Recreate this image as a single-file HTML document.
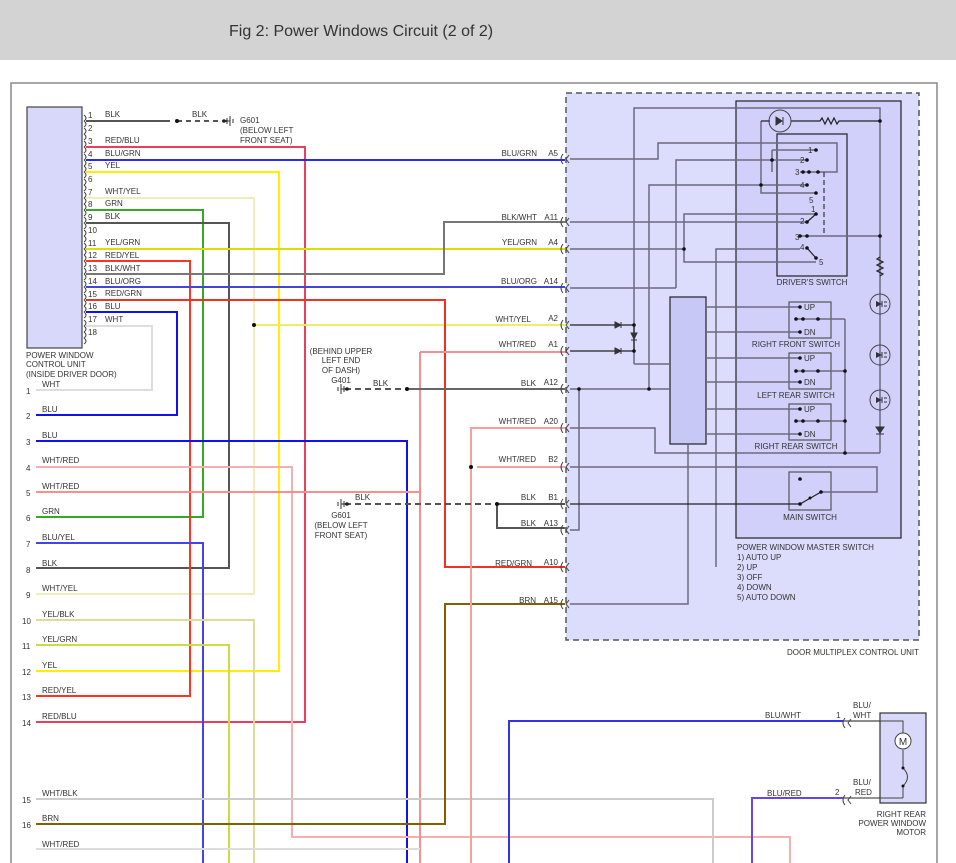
<!DOCTYPE html>
<html><head><meta charset="utf-8"><style>
html,body{margin:0;padding:0;background:#fff;}
svg{display:block;font-family:"Liberation Sans",sans-serif;}
.t{font-size:8px;fill:#333;}
</style></head><body>
<svg width="956" height="863" viewBox="0 0 956 863" xmlns="http://www.w3.org/2000/svg">
<defs>
<g id="cn"><path d="M-2,-5 Q-6,0 -2,5" fill="none" stroke="#444" stroke-width="1"/><path d="M4,-4 L1,0 L4,4" fill="none" stroke="#444" stroke-width="1"/></g>
<g id="pc"><path d="M0,-6 Q4,-3 0,0 M0,0 Q4,3 0,6" fill="none" stroke="#444" stroke-width="1"/></g>
<g id="gnd"><line x1="0" y1="-5" x2="0" y2="5" stroke="#333"/><line x1="3" y1="-3" x2="3" y2="3" stroke="#333"/><line x1="-3" y1="-2" x2="-3" y2="2" stroke="#333"/><line x1="0" y1="0" x2="6" y2="0" stroke="#333"/><circle cx="6" cy="0" r="1.8" fill="#222"/></g>
<g id="led"><circle r="10" fill="none" stroke="#444"/><path d="M-4,-3 L2,0 L-4,3 Z" fill="#333"/><line x1="2" y1="-3" x2="2" y2="3" stroke="#333"/><path d="M4,-2 l3,0 M4,2 l3,0" stroke="#333"/></g>
</defs>
<rect x="0" y="0" width="956" height="60" fill="#d3d3d3"/>
<text x="229" y="36" font-size="16" fill="#333">Fig 2: Power Windows Circuit (2 of 2)</text>
<path d="M11,863 V83 H937 V863" fill="none" stroke="#888" stroke-width="1.5"/>

<!-- right module -->
<rect x="566" y="93" width="353" height="547" fill="#dcdcfc" stroke="#555" stroke-dasharray="6,4" stroke-width="1.5"/>
<rect x="736" y="101" width="165" height="437" fill="#d0d0fa" stroke="#222" stroke-width="1.2"/>
<rect x="777" y="134" width="70" height="142" fill="#d0d0fa" stroke="#222" stroke-width="1.2"/>
<rect x="670" y="297" width="36" height="147" fill="#c8c8f6" stroke="#222" stroke-width="1.2"/>
<g fill="#d0d0fa" stroke="#555" stroke-width="1.2">
<rect x="789" y="302" width="42" height="36"/><rect x="789" y="353" width="42" height="36"/><rect x="789" y="404" width="42" height="36"/><rect x="789" y="472" width="42" height="38"/>
</g>
<text class="t" x="796" y="285" text-anchor="middle" dx="16">DRIVER'S SWITCH</text>
<text class="t" x="796" y="347" text-anchor="middle">RIGHT FRONT SWITCH</text>
<text class="t" x="796" y="398" text-anchor="middle">LEFT REAR SWITCH</text>
<text class="t" x="796" y="449" text-anchor="middle">RIGHT REAR SWITCH</text>
<text class="t" x="810" y="520" text-anchor="middle">MAIN SWITCH</text>
<text class="t" x="737" y="550">POWER WINDOW MASTER SWITCH</text>
<text class="t" x="737" y="560">1) AUTO UP</text><text class="t" x="737" y="570">2) UP</text><text class="t" x="737" y="580">3) OFF</text><text class="t" x="737" y="590">4) DOWN</text><text class="t" x="737" y="600">5) AUTO DOWN</text>
<text class="t" x="919" y="655" text-anchor="end">DOOR MULTIPLEX CONTROL UNIT</text>

<!-- internal wiring -->
<g fill="none" stroke="#6a6a80" stroke-width="1.5">
<path d="M634,364 V108 H880 V453"/>
<path d="M634,364 H670"/>
<path d="M570,159 H658 V143 H837 V172 H800"/>
<path d="M676,288 V160 H807"/>
<path d="M772,150 V172 M772,150 H816"/>
<path d="M649,389 V185 H807"/>
<path d="M761,121 V193 H816"/>
<path d="M570,222 H807"/>
<path d="M684,249 V214 H816 M684,249 V262 H816"/>
<path d="M570,249 H684"/>
<path d="M570,288 H676"/>
<path d="M716,567 V249 H800"/>
<path d="M800,236 H880"/>
<path d="M706,307 H800 M706,332 H800 M706,358 H800 M706,382 H800 M706,409 H800 M706,434 H800"/>
<path d="M796,319 H845 M796,371 H845 M796,421 H845 M845,319 V453"/>
<path d="M570,428 H655 V453 H880"/>
<path d="M570,467 H877 V492 H821"/>
<path d="M570,389 H670 M579,389 V530 H570"/>
<path d="M570,604 H688 V444"/>
<path d="M706,444 V444"/>
</g>
<g fill="none" stroke="#222" stroke-width="1.2">
<path d="M570,504 H800 L821,492"/>
<path d="M570,325 H634 M570,351 H634 M634,325 V351"/>
<path d="M761,121 H770 M791,121 H820 l2,-3 l3,6 l3,-6 l3,6 l3,-6 l3,6 l2,-3 H880"/>
<path d="M880,257 l-3,2 l6,3 l-6,3 l6,3 l-6,3 l6,3 l-3,2"/>
<path d="M816,214 L807,222 M807,248 L816,258"/>
</g>
<path d="M824,172 V236" stroke="#333" stroke-dasharray="5,3" stroke-width="1.2"/>
<circle cx="780" cy="121" r="11" fill="none" stroke="#444"/>
<path d="M776,117 L782,121 L776,125 Z M783,117 V125" fill="#333" stroke="#333"/>
<use href="#led" x="880" y="304"/><use href="#led" x="880" y="355"/><use href="#led" x="880" y="400"/>
<path d="M876,427 H884 L880,433 Z M876,434 H884" fill="#333" stroke="#333"/>
<path d="M615,322 L621,325 L615,328 Z M621,322 V328 M615,348 L621,351 L615,354 Z M621,348 V354 M631,333 H637 L634,339 Z M631,340 H637" fill="#333" stroke="#333"/>
<g fill="#111">
<circle cx="634" cy="325" r="1.8"/><circle cx="634" cy="351" r="1.8"/><circle cx="880" cy="121" r="1.8"/><circle cx="880" cy="236" r="1.8"/><circle cx="807" cy="236" r="1.8"/><circle cx="800" cy="236" r="1.8"/>
<circle cx="816" cy="150" r="1.8"/><circle cx="807" cy="160" r="1.8"/><circle cx="772" cy="160" r="1.8"/><circle cx="803" cy="172" r="1.8"/><circle cx="809" cy="172" r="1.8"/><circle cx="818" cy="172" r="1.8"/><circle cx="807" cy="185" r="1.8"/><circle cx="761" cy="185" r="1.8"/><circle cx="816" cy="193" r="1.8"/>
<circle cx="816" cy="214" r="1.8"/><circle cx="807" cy="222" r="1.8"/><circle cx="807" cy="248" r="1.8"/><circle cx="816" cy="258" r="1.8"/><circle cx="684" cy="249" r="1.8"/>
<circle cx="579" cy="389" r="1.8"/><circle cx="649" cy="389" r="1.8"/>
<circle cx="800" cy="307" r="1.8"/><circle cx="800" cy="332" r="1.8"/><circle cx="800" cy="358" r="1.8"/><circle cx="800" cy="382" r="1.8"/><circle cx="800" cy="409" r="1.8"/><circle cx="800" cy="434" r="1.8"/>
<circle cx="796" cy="319" r="1.8"/><circle cx="803" cy="319" r="1.8"/><circle cx="818" cy="319" r="1.8"/><circle cx="796" cy="371" r="1.8"/><circle cx="803" cy="371" r="1.8"/><circle cx="818" cy="371" r="1.8"/><circle cx="845" cy="371" r="1.8"/><circle cx="796" cy="421" r="1.8"/><circle cx="803" cy="421" r="1.8"/><circle cx="818" cy="421" r="1.8"/><circle cx="845" cy="421" r="1.8"/><circle cx="845" cy="453" r="1.8"/>
<circle cx="800" cy="479" r="1.8"/><circle cx="821" cy="492" r="1.8"/><circle cx="800" cy="504" r="1.8"/><circle cx="810" cy="498" r="1.5"/>
</g>
<g class="t" font-size="7">
<text x="808" y="153">1</text><text x="800" y="163">2</text><text x="795" y="175">3</text><text x="800" y="188">4</text><text x="809" y="203">5</text>
<text x="811" y="212">1</text><text x="800" y="224">2</text><text x="795" y="240">3</text><text x="800" y="250">4</text><text x="819" y="265">5</text>
<text x="804" y="310">UP</text><text x="804" y="335">DN</text><text x="804" y="361">UP</text><text x="804" y="385">DN</text><text x="804" y="412">UP</text><text x="804" y="437">DN</text>
</g>

<!-- left unit -->
<rect x="27" y="107" width="55" height="241" fill="#d8d8fa" stroke="#444" stroke-width="1.2"/>
<text class="t" x="26" y="358">POWER WINDOW</text><text class="t" x="26" y="367">CONTROL UNIT</text><text class="t" x="26" y="377">(INSIDE DRIVER DOOR)</text>

<!-- wires -->
<g fill="none" stroke-width="2">
<path d="M86,121 H170" stroke="#555"/>
<path d="M177,121 H228" stroke="#555" stroke-dasharray="5,4"/>
<path d="M86,147 H305 V722 H36" stroke="#e8405a"/>
<path d="M86,160 H565" stroke="#2a2aee"/>
<path d="M86,172 H279 V671 H36" stroke="#ffee00"/>
<path d="M86,198 H254 V594 H36" stroke="#eeeebb"/>
<path d="M254,325 H565" stroke="#eeee66"/>
<path d="M86,210 H203 V517 H36" stroke="#33aa22"/>
<path d="M86,223 H229 V568 H36" stroke="#555"/>
<path d="M86,249 H565" stroke="#dddd00"/>
<path d="M86,261 H190 V696 H36" stroke="#ff3322"/>
<path d="M86,274 H444 V222 H565" stroke="#777"/>
<path d="M86,287 H565" stroke="#4444dd"/>
<path d="M86,300 H445 V567 H565" stroke="#ee3322"/>
<path d="M86,312 H177 V415 H36" stroke="#1111ee"/>
<path d="M86,326 H152 V390 H36" stroke="#dddddd"/>
<path d="M36,441 H407 V863" stroke="#1111ee"/>
<path d="M36,467 H292 V837 H790 V863" stroke="#f4b0b0"/>
<path d="M36,492 H420 M420,352 V863 M420,352 H565" stroke="#f49090"/>
<path d="M36,543 H203 V863" stroke="#4444ee"/>
<path d="M36,620 H254 V863" stroke="#dddd99"/>
<path d="M36,645 H229 V863" stroke="#ccdd44"/>
<path d="M36,799 H713 V863" stroke="#cccccc"/>
<path d="M36,824 H445 V604 H565" stroke="#806000"/>
<path d="M36,849 H420" stroke="#dddddd"/>
<path d="M565,428 H471 V863 M477,467 H565" stroke="#f4a0a0"/>
<path d="M407,389 H565" stroke="#666"/>
<path d="M345,389 H407" stroke="#555" stroke-dasharray="6,4"/>
<path d="M497,504 H565 M497,504 V528 H565" stroke="#555"/>
<path d="M345,504 H497" stroke="#555" stroke-dasharray="6,4"/>
<path d="M509,863 V721 H843" stroke="#3333ee"/>
<path d="M752,863 V798 H843" stroke="#6644ee"/>
<path d="M843,721 H903 V735 M903,750 V770 M843,798 H903 V785" stroke="#555" stroke-width="1.2"/>
</g>
<g fill="#111"><circle cx="177" cy="121" r="2"/><circle cx="254" cy="325" r="2"/><circle cx="407" cy="389" r="2"/><circle cx="471" cy="467" r="2"/><circle cx="497" cy="504" r="2"/></g>
<use href="#gnd" x="230" y="121" transform="rotate(180 230 121) translate(0 0)"/>
<use href="#gnd" x="341" y="389"/><use href="#gnd" x="341" y="504"/>

<!-- motor box -->
<rect x="880" y="713" width="46" height="90" fill="#d8d8fa" stroke="#333" stroke-width="1.2"/>
<path d="M843,721 H903 V734 M903,750 V768 M903,798 V786 M880,798 H903" fill="none" stroke="#444"/>
<circle cx="903" cy="741" r="8" fill="#fff" stroke="#444"/><text x="903" y="745" font-size="10" text-anchor="middle" fill="#333">M</text>
<path d="M903,768 Q912,777 903,786" fill="none" stroke="#444"/>
<circle cx="903" cy="768" r="1.5" fill="#111"/><circle cx="903" cy="786" r="1.5" fill="#111"/>
<text class="t" x="926" y="817" text-anchor="end">RIGHT REAR</text><text class="t" x="926" y="826" text-anchor="end">POWER WINDOW</text><text class="t" x="926" y="835" text-anchor="end">MOTOR</text>

<!-- connectors -->
<g>
<use href="#cn" x="565" y="159"/><use href="#cn" x="565" y="222"/><use href="#cn" x="565" y="249"/><use href="#cn" x="565" y="288"/><use href="#cn" x="565" y="325"/><use href="#cn" x="565" y="351"/><use href="#cn" x="565" y="389"/><use href="#cn" x="565" y="428"/><use href="#cn" x="565" y="467"/><use href="#cn" x="565" y="504"/><use href="#cn" x="565" y="530"/><use href="#cn" x="565" y="567"/><use href="#cn" x="565" y="604"/>
<use href="#cn" x="847" y="723"/><use href="#cn" x="847" y="800"/>
</g>
<g>
<use href="#pc" x="84" y="121"/><use href="#pc" x="84" y="134"/><use href="#pc" x="84" y="147"/><use href="#pc" x="84" y="160"/><use href="#pc" x="84" y="172"/><use href="#pc" x="84" y="185"/><use href="#pc" x="84" y="198"/><use href="#pc" x="84" y="210"/><use href="#pc" x="84" y="223"/><use href="#pc" x="84" y="236"/><use href="#pc" x="84" y="249"/><use href="#pc" x="84" y="261"/><use href="#pc" x="84" y="274"/><use href="#pc" x="84" y="287"/><use href="#pc" x="84" y="300"/><use href="#pc" x="84" y="312"/><use href="#pc" x="84" y="326"/><use href="#pc" x="84" y="338"/>
</g>

<!-- left pin labels -->
<g class="t">
<text x="88" y="118">1</text><text x="105" y="117">BLK</text>
<text x="88" y="131">2</text>
<text x="88" y="144">3</text><text x="105" y="143">RED/BLU</text>
<text x="88" y="157">4</text><text x="105" y="156">BLU/GRN</text>
<text x="88" y="169">5</text><text x="105" y="168">YEL</text>
<text x="88" y="182">6</text>
<text x="88" y="195">7</text><text x="105" y="194">WHT/YEL</text>
<text x="88" y="207">8</text><text x="105" y="206">GRN</text>
<text x="88" y="220">9</text><text x="105" y="219">BLK</text>
<text x="88" y="233">10</text>
<text x="88" y="246">11</text><text x="105" y="245">YEL/GRN</text>
<text x="88" y="258">12</text><text x="105" y="258">RED/YEL</text>
<text x="88" y="271">13</text><text x="105" y="271">BLK/WHT</text>
<text x="88" y="284">14</text><text x="105" y="284">BLU/ORG</text>
<text x="88" y="297">15</text><text x="105" y="296">RED/GRN</text>
<text x="88" y="309">16</text><text x="105" y="309">BLU</text>
<text x="88" y="322">17</text><text x="105" y="322">WHT</text>
<text x="88" y="335">18</text>
<text x="192" y="117">BLK</text>
<text x="240" y="123">G601</text><text x="240" y="133">(BELOW LEFT</text><text x="240" y="143">FRONT SEAT)</text>

<text x="42" y="387">WHT</text><text x="26" y="394">1</text>
<text x="42" y="412">BLU</text><text x="26" y="419">2</text>
<text x="42" y="438">BLU</text><text x="26" y="445">3</text>
<text x="42" y="463">WHT/RED</text><text x="26" y="471">4</text>
<text x="42" y="489">WHT/RED</text><text x="26" y="496">5</text>
<text x="42" y="514">GRN</text><text x="26" y="521">6</text>
<text x="42" y="540">BLU/YEL</text><text x="26" y="547">7</text>
<text x="42" y="566">BLK</text><text x="26" y="573">8</text>
<text x="42" y="591">WHT/YEL</text><text x="26" y="598">9</text>
<text x="42" y="617">YEL/BLK</text><text x="22" y="624">10</text>
<text x="42" y="642">YEL/GRN</text><text x="22" y="649">11</text>
<text x="42" y="668">YEL</text><text x="22" y="675">12</text>
<text x="42" y="693">RED/YEL</text><text x="22" y="700">13</text>
<text x="42" y="719">RED/BLU</text><text x="22" y="726">14</text>
<text x="42" y="796">WHT/BLK</text><text x="22" y="803">15</text>
<text x="42" y="821">BRN</text><text x="22" y="828">16</text>
<text x="42" y="847">WHT/RED</text>

<text x="341" y="354" text-anchor="middle">(BEHIND UPPER</text><text x="341" y="363" text-anchor="middle">LEFT END</text><text x="341" y="373" text-anchor="middle">OF DASH)</text><text x="341" y="383" text-anchor="middle">G401</text>
<text x="373" y="386">BLK</text>
<text x="355" y="500">BLK</text>
<text x="341" y="518" text-anchor="middle">G601</text><text x="341" y="528" text-anchor="middle">(BELOW LEFT</text><text x="341" y="538" text-anchor="middle">FRONT SEAT)</text>

<g text-anchor="end">
<text x="537" y="156">BLU/GRN</text><text x="558" y="156">A5</text>
<text x="537" y="220">BLK/WHT</text><text x="558" y="220">A11</text>
<text x="537" y="245">YEL/GRN</text><text x="558" y="245">A4</text>
<text x="537" y="284">BLU/ORG</text><text x="558" y="284">A14</text>
<text x="531" y="322">WHT/YEL</text><text x="558" y="321">A2</text>
<text x="536" y="347">WHT/RED</text><text x="558" y="347">A1</text>
<text x="536" y="386">BLK</text><text x="558" y="385">A12</text>
<text x="536" y="424">WHT/RED</text><text x="558" y="424">A20</text>
<text x="536" y="462">WHT/RED</text><text x="558" y="462">B2</text>
<text x="536" y="500">BLK</text><text x="558" y="500">B1</text>
<text x="536" y="526">BLK</text><text x="558" y="526">A13</text>
<text x="532" y="566">RED/GRN</text><text x="558" y="565">A10</text>
<text x="536" y="603">BRN</text><text x="558" y="603">A15</text>
</g>
<text x="765" y="718">BLU/WHT</text><text x="836" y="718">1</text><text x="853" y="708">BLU/</text><text x="853" y="718">WHT</text>
<text x="767" y="796">BLU/RED</text><text x="835" y="795">2</text><text x="853" y="785">BLU/</text><text x="855" y="795">RED</text>
</g>
</svg>
</body></html>
